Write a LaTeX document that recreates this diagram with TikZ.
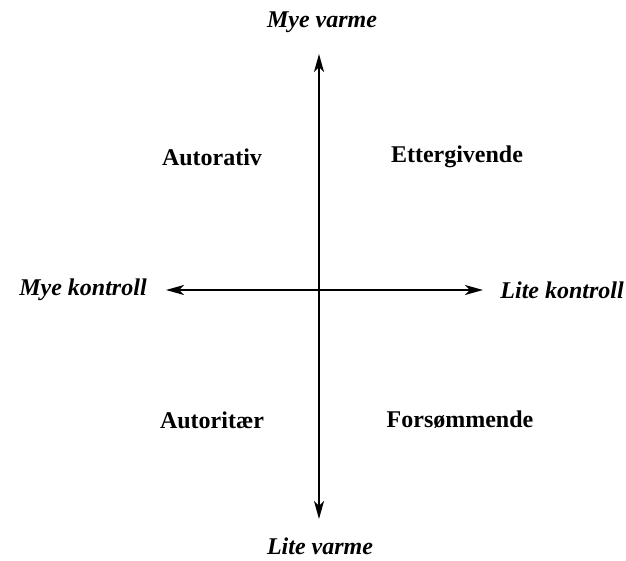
\documentclass[tikz,border=0pt]{standalone}
\usepackage{fontspec}
\setmainfont{Liberation Serif}
\usetikzlibrary{arrows.meta, positioning}

\begin{document}
\begin{tikzpicture}[x=1pt, y=-1pt,
	pol/.style={font=\fontsize{24}{28}\selectfont\bfseries\itshape, inner sep=0pt},
	stil/.style={font=\fontsize{24}{28}\selectfont\bfseries, inner sep=0pt},
	akse/.style={line width=1.6pt, -{Stealth[length=18pt, width=10pt, inset=5pt]}}]
	\useasboundingbox (0,0) rectangle (626,561);
	% aksene: varme (loddrett) og kontroll (vannrett)
	\coordinate (o) at (319,290);
	\coordinate (n) at (319,54);
	\coordinate (s) at (319,519);
	\coordinate (w) at (166,290);
	\coordinate (e) at (483,290);
	\foreach \ende in {n, s, w, e}
		{\draw[akse] (o) -- (\ende);}
	% endepunktene
	\node[pol] (myevarme) at (322,22) {Mye varme};
	\node[pol] (litevarme) at (320,546) {Lite varme};
	\node[pol] (myekontroll) at (83,290) {Mye kontroll};
	\node[pol, anchor=east] (litekontroll) at (624,290) {Lite kontroll};
	% foreldrestilene i hver kvadrant
	\foreach \navn/\x/\y/\tekst in {autorativ/212/157/Autorativ,
		ettergivende/457/157/Ettergivende, autoritaer/212/420/Autoritær,
		forsommende/460/420/Forsømmende}
		{\node[stil] (\navn) at (\x,\y) {\tekst};}
\end{tikzpicture}
\end{document}
